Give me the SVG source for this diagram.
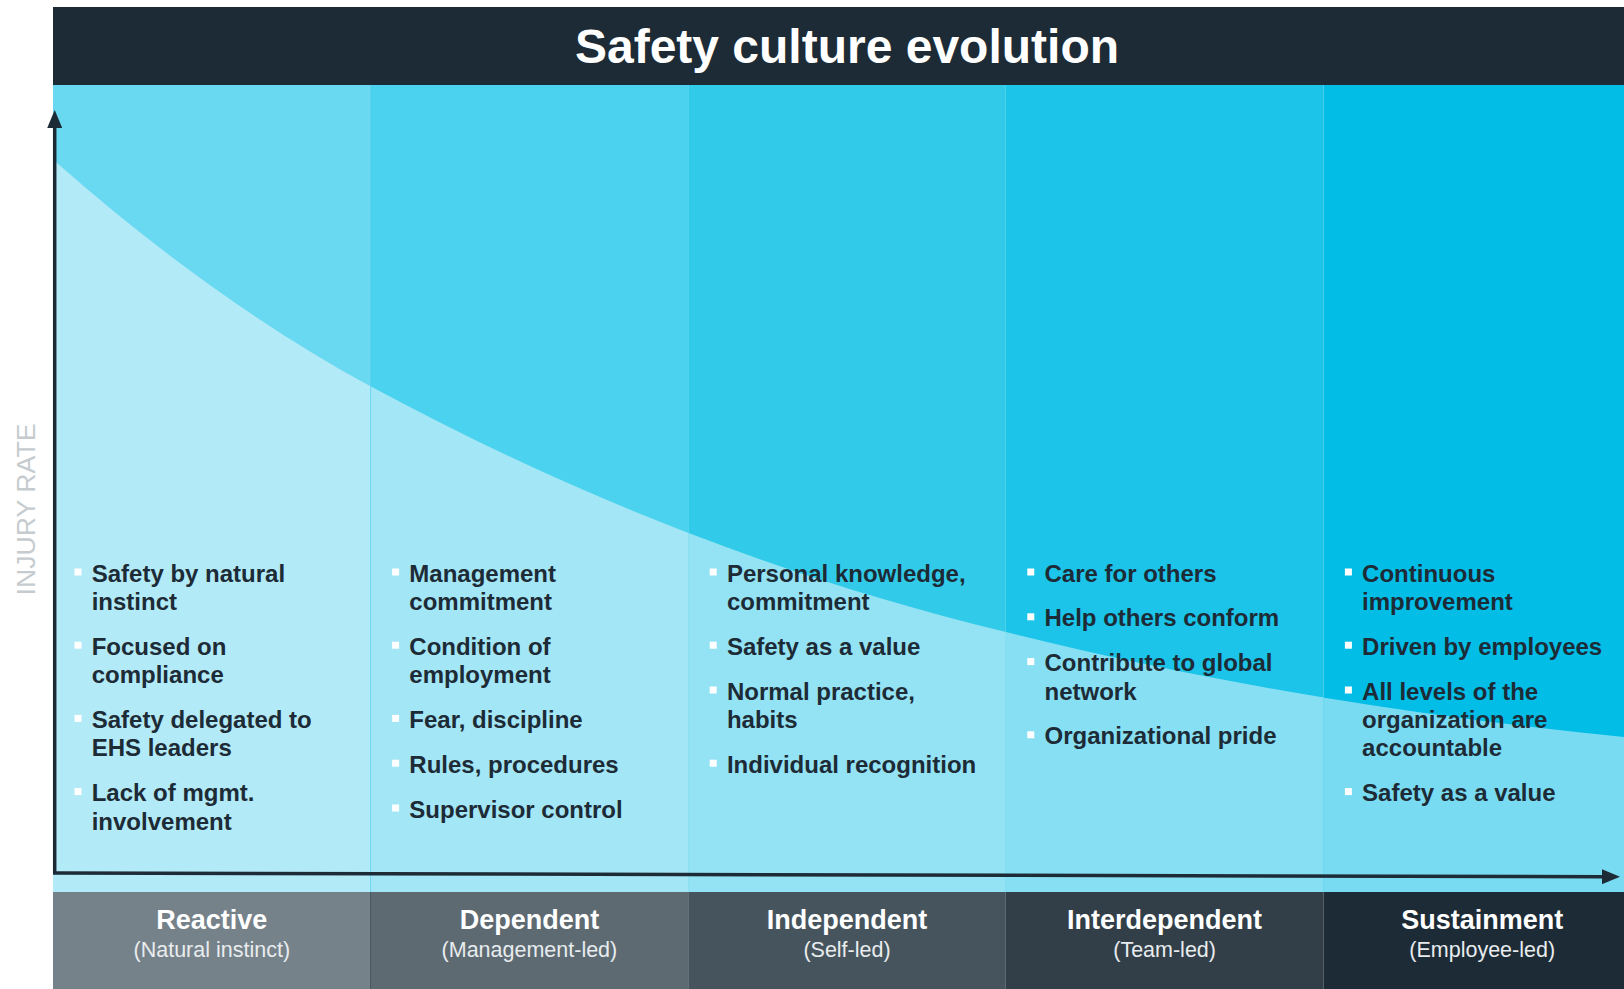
<svg xmlns="http://www.w3.org/2000/svg" width="1624" height="989" viewBox="0 0 1624 989">
<style>
.t{font-family:"Liberation Sans",Arial,sans-serif;font-weight:bold;font-size:24px;fill:#1d2b36}
.b{fill:#ffffff}
.lab{font-family:"Liberation Sans",Arial,sans-serif;font-weight:bold;font-size:27px;fill:#ffffff;text-anchor:middle}
.sub{font-family:"Liberation Sans",Arial,sans-serif;font-size:21.5px;fill:#e8ecee;text-anchor:middle}
.axis{stroke:#1d2b36;stroke-width:3.5;fill:none}
</style>
<defs>
<path id="lower" d="M53,160 L57,163 C161,254.5 266,329.8 370,386 C582,500.5 794,581.1 1006,632 C1212,683.5 1418,716.4 1624,737 L1642,738 L1642,892 L53,892 Z"/>
<clipPath id="c1"><rect x="53" y="85" width="317.6" height="807"/></clipPath>
<clipPath id="c2"><rect x="370.6" y="85" width="317.6" height="807"/></clipPath>
<clipPath id="c3"><rect x="688.2" y="85" width="317.6" height="807"/></clipPath>
<clipPath id="c4"><rect x="1005.8" y="85" width="317.6" height="807"/></clipPath>
<clipPath id="c5"><rect x="1323.4" y="85" width="318" height="807"/></clipPath>
<marker id="arr" markerUnits="userSpaceOnUse" markerWidth="18" markerHeight="15" refX="1" refY="7.5" orient="auto" viewBox="0 0 18 15">
<path d="M0,0 L18,7.5 L0,15 Z" fill="#1d2b36"/>
</marker>
</defs>

<g id="background">
<rect x="53" y="85" width="317.6" height="807" fill="#69d8f1"/>
<rect x="370.6" y="85" width="317.6" height="807" fill="#4bd2ee"/>
<rect x="688.2" y="85" width="317.6" height="807" fill="#31cbe9"/>
<rect x="1005.8" y="85" width="317.6" height="807" fill="#1bc4e8"/>
<rect x="1323.4" y="85" width="318" height="807" fill="#02bde6"/>
<use href="#lower" clip-path="url(#c1)" fill="#b2eaf7"/>
<use href="#lower" clip-path="url(#c2)" fill="#a3e6f5"/>
<use href="#lower" clip-path="url(#c3)" fill="#94e3f4"/>
<use href="#lower" clip-path="url(#c4)" fill="#87dff3"/>
<use href="#lower" clip-path="url(#c5)" fill="#79dbf2"/>
<line x1="370.6" y1="85" x2="370.6" y2="892" stroke="#22c0e8" stroke-opacity="0.4" stroke-width="1"/>
</g>

<g id="title">
<rect x="53" y="7" width="1571" height="78" fill="#1d2b36"/>
<text x="847" y="63" font-family="'Liberation Sans',Arial,sans-serif" font-weight="bold" font-size="48" fill="#ffffff" text-anchor="middle">Safety culture evolution</text>
</g>

<g id="y-axis-label">
<text transform="translate(35,509.5) rotate(-90)" font-family="'Liberation Sans',Arial,sans-serif" font-size="26.7" fill="#c5cbce" text-anchor="middle">INJURY RATE</text>
</g>

<g id="connectors">
<line class="axis" x1="54.7" y1="874" x2="54.7" y2="127" marker-end="url(#arr)"/>
<line class="axis" x1="53" y1="873" x2="1603" y2="876.7" marker-end="url(#arr)"/>
</g>

<g id="stage-reactive">
<rect class="b" x="74.5" y="568.5" width="7" height="7"/>
<text class="t" x="91.7" y="581.5">Safety by natural</text>
<text class="t" x="91.7" y="609.9">instinct</text>
<rect class="b" x="74.5" y="641.7" width="7" height="7"/>
<text class="t" x="91.7" y="654.7">Focused on</text>
<text class="t" x="91.7" y="683.1">compliance</text>
<rect class="b" x="74.5" y="714.9" width="7" height="7"/>
<text class="t" x="91.7" y="727.9">Safety delegated to</text>
<text class="t" x="91.7" y="756.3">EHS leaders</text>
<rect class="b" x="74.5" y="788.1" width="7" height="7"/>
<text class="t" x="91.7" y="801.1">Lack of mgmt.</text>
<text class="t" x="91.7" y="829.5">involvement</text>
<rect x="53" y="892" width="317.6" height="97" fill="#76828a"/>
<text class="lab" x="211.8" y="929">Reactive</text>
<text class="sub" x="211.8" y="957">(Natural instinct)</text>
</g>

<g id="stage-dependent">
<rect class="b" x="392.1" y="568.5" width="7" height="7"/>
<text class="t" x="409.3" y="581.5">Management</text>
<text class="t" x="409.3" y="609.9">commitment</text>
<rect class="b" x="392.1" y="641.7" width="7" height="7"/>
<text class="t" x="409.3" y="654.7">Condition of</text>
<text class="t" x="409.3" y="683.1">employment</text>
<rect class="b" x="392.1" y="714.9" width="7" height="7"/>
<text class="t" x="409.3" y="727.9">Fear, discipline</text>
<rect class="b" x="392.1" y="759.7" width="7" height="7"/>
<text class="t" x="409.3" y="772.7">Rules, procedures</text>
<rect class="b" x="392.1" y="804.5" width="7" height="7"/>
<text class="t" x="409.3" y="817.5">Supervisor control</text>
<rect x="370.6" y="892" width="317.6" height="97" fill="#5d6a72"/>
<line x1="370.6" y1="892" x2="370.6" y2="989" stroke="#46535b" stroke-width="1"/>
<text class="lab" x="529.4" y="929">Dependent</text>
<text class="sub" x="529.4" y="957">(Management-led)</text>
</g>

<g id="stage-independent">
<rect class="b" x="709.7" y="568.5" width="7" height="7"/>
<text class="t" x="726.9" y="581.5">Personal knowledge,</text>
<text class="t" x="726.9" y="609.9">commitment</text>
<rect class="b" x="709.7" y="641.7" width="7" height="7"/>
<text class="t" x="726.9" y="654.7">Safety as a value</text>
<rect class="b" x="709.7" y="686.5" width="7" height="7"/>
<text class="t" x="726.9" y="699.5">Normal practice,</text>
<text class="t" x="726.9" y="727.9">habits</text>
<rect class="b" x="709.7" y="759.7" width="7" height="7"/>
<text class="t" x="726.9" y="772.7">Individual recognition</text>
<rect x="688.2" y="892" width="317.6" height="97" fill="#46555d"/>
<text class="lab" x="847" y="929">Independent</text>
<text class="sub" x="847" y="957">(Self-led)</text>
</g>

<g id="stage-interdependent">
<rect class="b" x="1027.3" y="568.5" width="7" height="7"/>
<text class="t" x="1044.5" y="581.5">Care for others</text>
<rect class="b" x="1027.3" y="613.3" width="7" height="7"/>
<text class="t" x="1044.5" y="626.3">Help others conform</text>
<rect class="b" x="1027.3" y="658.1" width="7" height="7"/>
<text class="t" x="1044.5" y="671.1">Contribute to global</text>
<text class="t" x="1044.5" y="699.5">network</text>
<rect class="b" x="1027.3" y="731.3" width="7" height="7"/>
<text class="t" x="1044.5" y="744.3">Organizational pride</text>
<rect x="1005.8" y="892" width="317.6" height="97" fill="#323f48"/>
<text class="lab" x="1164.6" y="929">Interdependent</text>
<text class="sub" x="1164.6" y="957">(Team-led)</text>
</g>

<g id="stage-sustainment">
<rect class="b" x="1344.9" y="568.5" width="7" height="7"/>
<text class="t" x="1362.1" y="581.5">Continuous</text>
<text class="t" x="1362.1" y="609.9">improvement</text>
<rect class="b" x="1344.9" y="641.7" width="7" height="7"/>
<text class="t" x="1362.1" y="654.7">Driven by employees</text>
<rect class="b" x="1344.9" y="686.5" width="7" height="7"/>
<text class="t" x="1362.1" y="699.5">All levels of the</text>
<text class="t" x="1362.1" y="727.9">organization are</text>
<text class="t" x="1362.1" y="756.3">accountable</text>
<rect class="b" x="1344.9" y="788.1" width="7" height="7"/>
<text class="t" x="1362.1" y="801.1">Safety as a value</text>
<rect x="1323.4" y="892" width="318" height="97" fill="#1d2b36"/>
<text class="lab" x="1482.2" y="929">Sustainment</text>
<text class="sub" x="1482.2" y="957">(Employee-led)</text>
</g>
</svg>
